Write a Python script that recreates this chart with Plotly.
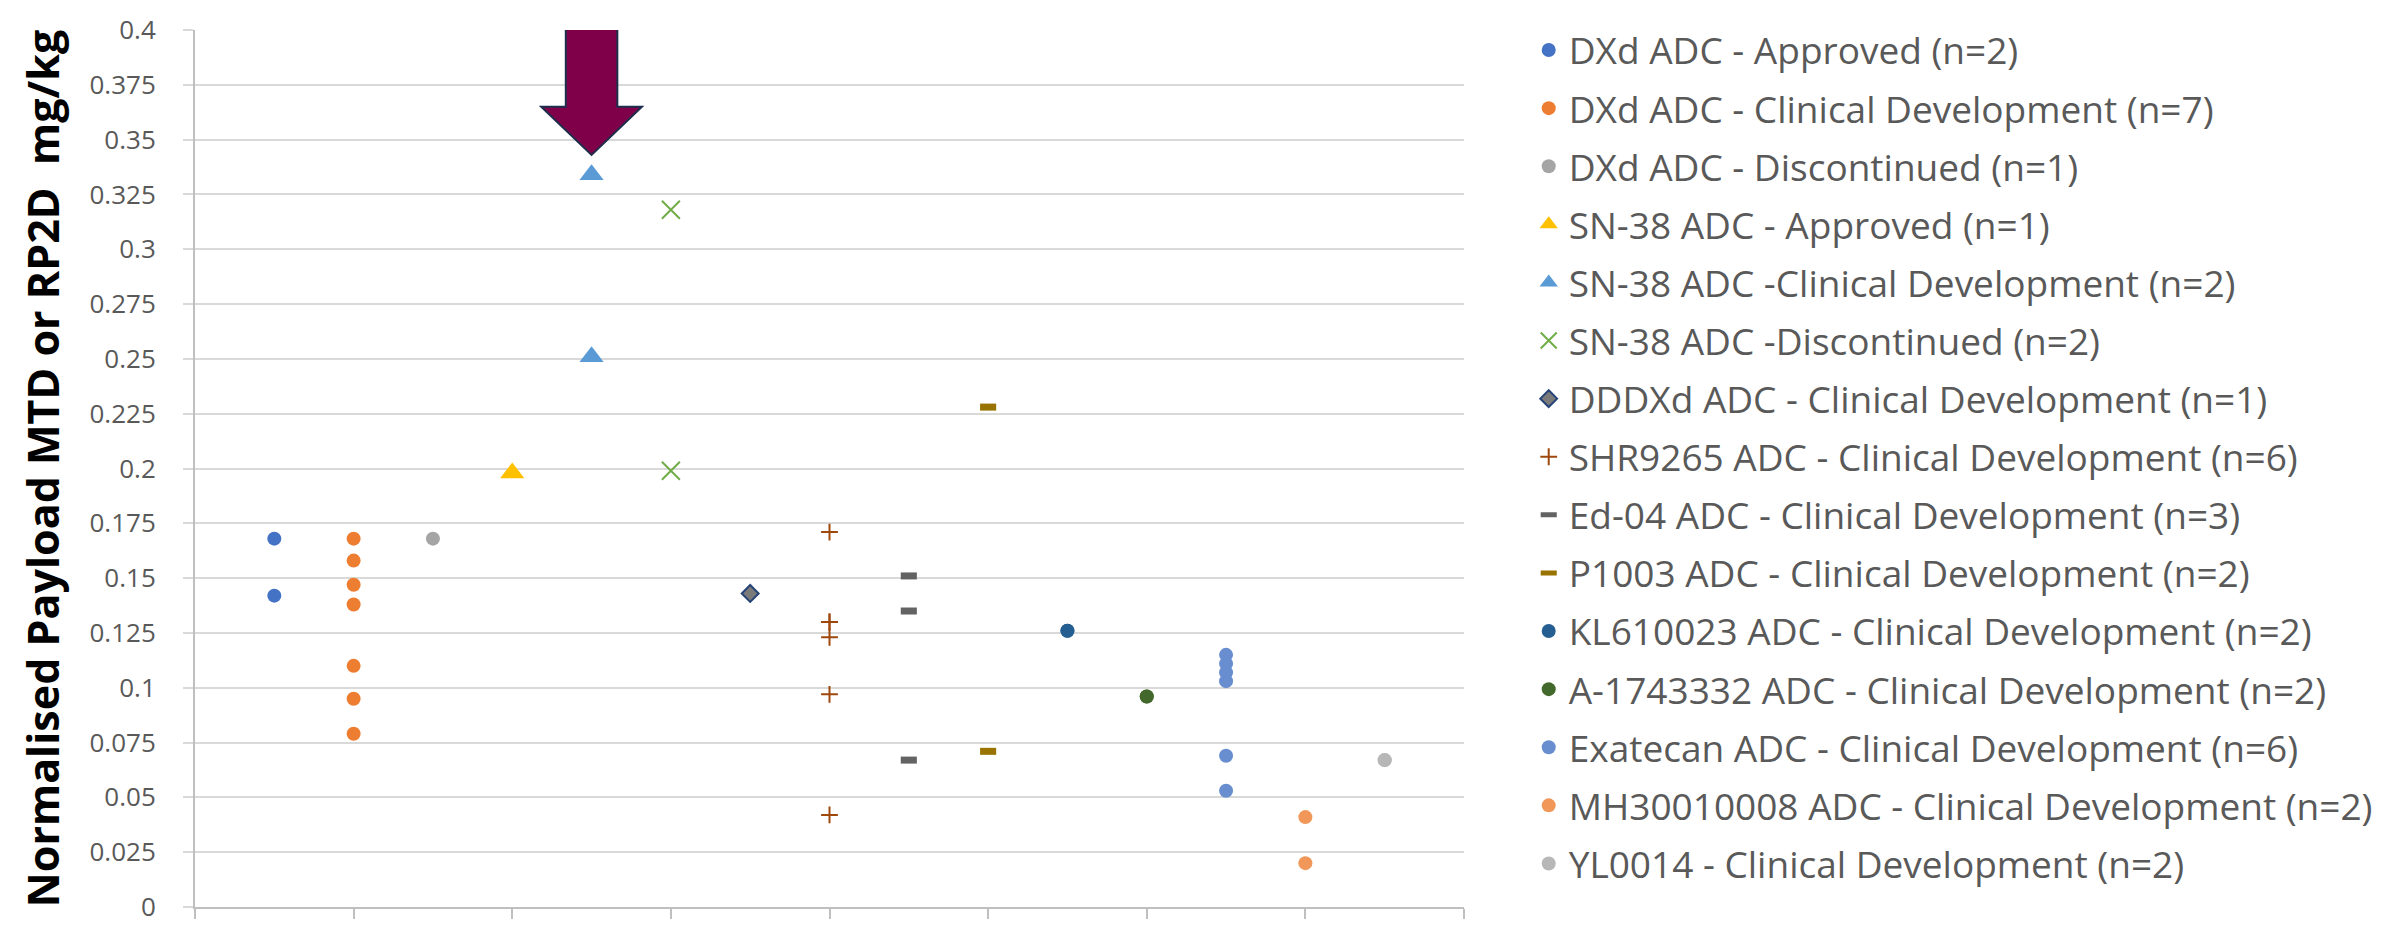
import plotly.graph_objects as go

# ---------------- data ----------------
series_names = [
    "DXd ADC - Approved (n=2)",
    "DXd ADC - Clinical Development (n=7)",
    "DXd ADC - Discontinued (n=1)",
    "SN-38 ADC - Approved (n=1)",
    "SN-38 ADC -Clinical Development (n=2)",
    "SN-38 ADC -Discontinued (n=2)",
    "DDDXd ADC - Clinical Development (n=1)",
    "SHR9265 ADC - Clinical Development (n=6)",
    "Ed-04 ADC - Clinical Development (n=3)",
    "P1003 ADC - Clinical Development (n=2)",
    "KL610023 ADC - Clinical Development (n=2)",
    "A-1743332 ADC - Clinical Development (n=2)",
    "Exatecan ADC - Clinical Development (n=6)",
    "MH30010008 ADC - Clinical Development (n=2)",
    "YL0014 - Clinical Development (n=2)",
]
category_positions = [1, 2, 3, 4, 5, 6, 7, 8, 9, 10, 11, 12, 13, 14, 15]

dxd_approved = [0.168, 0.142]
dxd_clinical = [0.168, 0.158, 0.147, 0.138, 0.110, 0.095, 0.079]
dxd_discontinued = [0.168]
sn38_approved = [0.198]
sn38_clinical = [0.334, 0.251]
sn38_discontinued = [0.318, 0.199]
dddxd_clinical = [0.143]
shr9265_clinical = [0.171, 0.130, 0.130, 0.123, 0.097, 0.042]
ed04_clinical = [0.151, 0.135, 0.067]
p1003_clinical = [0.228, 0.071]
kl610023_clinical = [0.126, 0.126]
a1743332_clinical = [0.096, 0.096]
exatecan_clinical = [0.115, 0.111, 0.107, 0.103, 0.069, 0.053]
mh30010008_clinical = [0.041, 0.020]
yl0014_clinical = [0.067, 0.067]

series_values = [
    dxd_approved, dxd_clinical, dxd_discontinued,
    sn38_approved, sn38_clinical, sn38_discontinued,
    dddxd_clinical, shr9265_clinical, ed04_clinical, p1003_clinical,
    kl610023_clinical, a1743332_clinical, exatecan_clinical,
    mh30010008_clinical, yl0014_clinical,
]

y_tick_values = [0, 0.025, 0.05, 0.075, 0.1, 0.125, 0.15, 0.175, 0.2,
                 0.225, 0.25, 0.275, 0.3, 0.325, 0.35, 0.375, 0.4]
y_tick_labels = ["0", "0.025", "0.05", "0.075", "0.1", "0.125", "0.15", "0.175", "0.2",
                 "0.225", "0.25", "0.275", "0.3", "0.325", "0.35", "0.375", "0.4"]
x_tick_values = [0, 2, 4, 6, 8, 10, 12, 14, 16]

# ---------------- styles ----------------
styles = [
    dict(symbol="circle", size=14, color="#4472C4"),
    dict(symbol="circle", size=14, color="#ED7D31"),
    dict(symbol="circle", size=14, color="#A5A5A5"),
    dict(symbol="triangle-up", size=21, color="#FFC000"),
    dict(symbol="triangle-up", size=21, color="#5B9BD5"),
    dict(symbol="x-thin", size=18, color="#70AD47", line=dict(color="#70AD47", width=2)),
    dict(symbol="diamond", size=13, color="#7A7A7A", line=dict(color="#264478", width=2)),
    dict(symbol="cross-thin", size=12, color="#9E480E", line=dict(color="#9E480E", width=2)),
    dict(symbol="line-ew", size=11.5, color="#636363", line=dict(color="#636363", width=7)),
    dict(symbol="line-ew", size=11.5, color="#997300", line=dict(color="#997300", width=7)),
    dict(symbol="circle", size=14, color="#255E91"),
    dict(symbol="circle", size=14, color="#43682B"),
    dict(symbol="circle", size=14, color="#698ED0"),
    dict(symbol="circle", size=14, color="#F1975A"),
    dict(symbol="circle", size=14, color="#B7B7B7"),
]

fig = go.Figure()
for name, pos, vals, st in zip(series_names, category_positions, series_values, styles):
    marker = dict(symbol=st["symbol"], size=st["size"], color=st["color"])
    marker["line"] = st.get("line", dict(width=0))
    fig.add_trace(go.Scatter(
        x=[pos] * len(vals), y=vals, mode="markers", name=name,
        legendgroup=name, marker=marker,
    ))

# Block arrow pointing at the top SN-38 clinical-development point
ax = category_positions[4]
tip = max(sn38_clinical) + 0.009
head_base = tip + 0.022
top = 0.4004
hw, sw = 0.635, 0.325
path = (f"M {ax - sw},{top} L {ax + sw},{top} L {ax + sw},{head_base} "
        f"L {ax + hw},{head_base} L {ax},{tip} L {ax - hw},{head_base} "
        f"L {ax - sw},{head_base} Z")
fig.add_shape(type="path", path=path, xref="x", yref="y",
              fillcolor="#7F0048", line=dict(color="#1F2D4D", width=2), layer="above")

font_family = "Open Sans, Liberation Sans, sans-serif"

fig.update_layout(
    width=2389, height=935,
    margin=dict(l=195, r=923, t=22, b=11),
    paper_bgcolor="white", plot_bgcolor="white",
    font=dict(family=font_family, color="#595959"),
    showlegend=True,
    legend=dict(
        x=1.051, xanchor="left", y=1.012, yanchor="top",
        font=dict(size=37, color="#595959", family=font_family),
        traceorder="grouped", tracegroupgap=7,
        bgcolor="rgba(0,0,0,0)", itemsizing="trace", maxheight=1,
    ),
    xaxis=dict(
        range=[0, 16], tickvals=x_tick_values, showticklabels=False,
        ticks="outside", ticklen=10, tickwidth=2, tickcolor="#BFBFBF",
        showgrid=False, zeroline=False, showline=True, linecolor="#BFBFBF", linewidth=2,
    ),
    yaxis=dict(
        range=[0, 0.4], tickvals=y_tick_values, ticktext=y_tick_labels,
        ticks="outside", ticklen=10, tickwidth=2, tickcolor="#D9D9D9",
        tickfont=dict(size=26, color="#595959", family=font_family),
        ticklabelstandoff=22,
        showgrid=True, gridcolor="#D9D9D9", gridwidth=2,
        zeroline=False, showline=True, linecolor="#BFBFBF", linewidth=2,
        title=dict(text="<b>Normalised Payload MTD or RP2D  mg/kg</b>",
                   font=dict(size=43, color="#000000", family=font_family),
                   standoff=16),
    ),
)

fig.write_html("out.html")
